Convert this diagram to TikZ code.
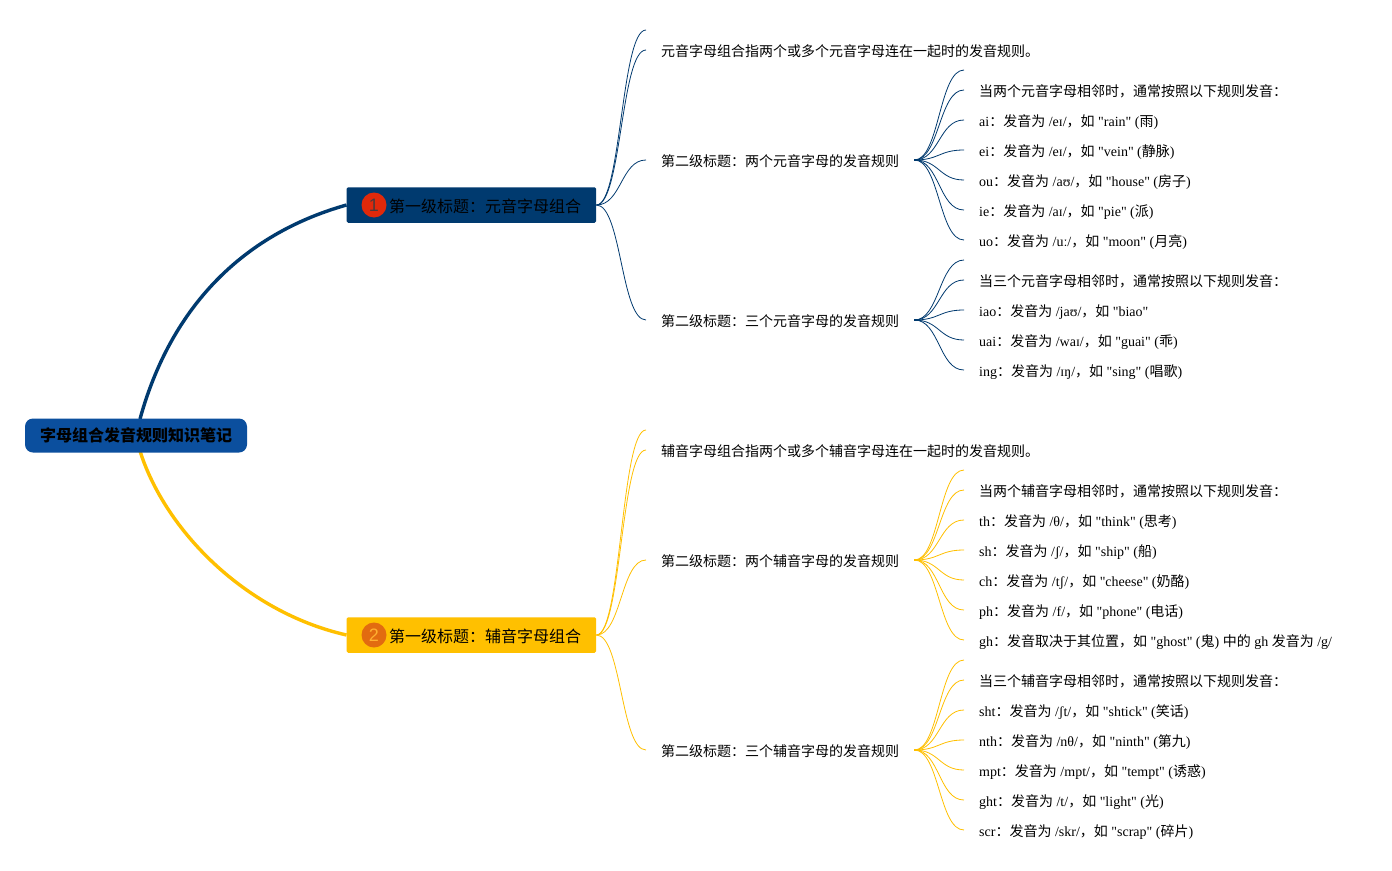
\documentclass[tikz,border=0pt]{standalone}
\usepackage{fontspec}
\newfontfamily\latinfont{Liberation Serif}
\newfontfamily\cjk{Noto Sans CJK SC}
\newfontfamily\badgefont{Liberation Sans}
\newcommand{\zh}[1]{\raisebox{-0.6pt}{\cjk #1}}
\definecolor{rootblue}{HTML}{0B4F9E}
\definecolor{navy}{HTML}{003A6F}
\definecolor{gold}{HTML}{FFC000}
\definecolor{redbadge}{HTML}{E0290A}
\definecolor{orangebadge}{HTML}{E26B10}
\definecolor{digitdark}{HTML}{4A3A3A}
\definecolor{digitlight}{HTML}{FFB030}
\tikzset{
  rootbox/.style={fill=rootblue,rounded corners=8pt,minimum width=222pt,minimum height=34pt,inner sep=0pt,font=\fontsize{16}{16}\cjk\bfseries},
  topicbox/.style={rounded corners=1.5pt,minimum width=249.5pt,minimum height=35.5pt,inner sep=0pt,anchor=west},
  topictext/.style={inner sep=0pt,anchor=west,font=\fontsize{16}{16}\cjk},
  badge/.style={circle,minimum size=25pt,inner sep=0pt,font=\fontsize{18}{18}\badgefont},
  leaf/.style={anchor=west,inner xsep=15pt,inner ysep=0pt,text height=15pt,text depth=3pt,font=\fontsize{14}{14}\latinfont},
  trunk/.style={line width=3.4pt},
  twig/.style={line width=0.8pt},
  stub/.style={line width=1.8pt},
  twigcurve/.style={to path={.. controls +(25,0) and +(-25,0) .. (\tikztotarget)}}
}
\begin{document}
\begin{tikzpicture}[x=1pt,y=-1pt]
\useasboundingbox (0,0) rectangle (1392,870);
\fill[white] (0,0) rectangle (1392,870);

% ---------- first-level boxes and root ----------
\node[topicbox,fill=navy] (vowel) at (346.5,205) {};
\node[topicbox,fill=gold] (cons) at (346.5,635) {};
\coordinate (rootUp) at (140,419);
\coordinate (rootDown) at (140,451);
\draw[trunk,navy] (rootUp) .. controls (170,310) and (240,235) .. (vowel.west);
\draw[trunk,gold] (rootDown) .. controls (165,530) and (245,612) .. (cons.west);
\node[rootbox] (root) at (136,435.5) {字母组合发音规则知识笔记};
\node[badge,fill=redbadge,text=digitdark] (b1) at (374,205) {1};
\node[badge,fill=orangebadge,text=digitlight] (b2) at (374,635) {2};
\node[topictext] (vt) at (389,206) {第一级标题：元音字母组合};
\node[topictext] (ct) at (389,636) {第一级标题：辅音字母组合};

% ---------- vowel branch ----------
\coordinate (v0) at (646,30);
\node[leaf] (v1) at (646,50) {\zh{元音字母组合指两个或多个元音字母连在一起时的发音规则。}};
\node[leaf] (v2) at (646,160) {\zh{第二级标题：两个元音字母的发音规则}};
\node[leaf] (v3) at (646,320) {\zh{第二级标题：三个元音字母的发音规则}};

\coordinate (a0) at (964,70);
\node[leaf] (a1) at (964,90) {\zh{当两个元音字母相邻时，通常按照以下规则发音：}};
\node[leaf] (a2) at (964,120) {ai\zh{：发音为} /eɪ/\zh{，如} "rain" (\zh{雨})};
\node[leaf] (a3) at (964,150) {ei\zh{：发音为} /eɪ/\zh{，如} "vein" (\zh{静脉})};
\node[leaf] (a4) at (964,180) {ou\zh{：发音为} /aʊ/\zh{，如} "house" (\zh{房子})};
\node[leaf] (a5) at (964,210) {ie\zh{：发音为} /aɪ/\zh{，如} "pie" (\zh{派})};
\node[leaf] (a6) at (964,240) {uo\zh{：发音为} /uː/\zh{，如} "moon" (\zh{月亮})};

\coordinate (b0) at (964,260);
\node[leaf] (b1t) at (964,280) {\zh{当三个元音字母相邻时，通常按照以下规则发音：}};
\node[leaf] (b2t) at (964,310) {iao\zh{：发音为} /jaʊ/\zh{，如} "biao"};
\node[leaf] (b3t) at (964,340) {uai\zh{：发音为} /waɪ/\zh{，如} "guai" (\zh{乖})};
\node[leaf] (b4t) at (964,370) {ing\zh{：发音为} /ɪŋ/\zh{，如} "sing" (\zh{唱歌})};

\begin{scope}[twig,navy]
  \foreach \t in {v0,v1.west,v2.west,v3.west} \draw (vowel.east) to[twigcurve] (\t);
  \foreach \t in {a0,a1.west,a2.west,a3.west,a4.west,a5.west,a6.west} \draw (v2.east) to[twigcurve] (\t);
  \foreach \t in {b0,b1t.west,b2t.west,b3t.west,b4t.west} \draw (v3.east) to[twigcurve] (\t);
  \draw[stub] (v2.east) -- ++(6,0);
  \draw[stub] (v3.east) -- ++(6,0);
\end{scope}

% ---------- consonant branch ----------
\coordinate (c0) at (646,430);
\node[leaf] (c1) at (646,450) {\zh{辅音字母组合指两个或多个辅音字母连在一起时的发音规则。}};
\node[leaf] (c2) at (646,560) {\zh{第二级标题：两个辅音字母的发音规则}};
\node[leaf] (c3) at (646,750) {\zh{第二级标题：三个辅音字母的发音规则}};

\coordinate (d0) at (964,470);
\node[leaf] (d1) at (964,490) {\zh{当两个辅音字母相邻时，通常按照以下规则发音：}};
\node[leaf] (d2) at (964,520) {th\zh{：发音为} /θ/\zh{，如} "think" (\zh{思考})};
\node[leaf] (d3) at (964,550) {sh\zh{：发音为} /ʃ/\zh{，如} "ship" (\zh{船})};
\node[leaf] (d4) at (964,580) {ch\zh{：发音为} /tʃ/\zh{，如} "cheese" (\zh{奶酪})};
\node[leaf] (d5) at (964,610) {ph\zh{：发音为} /f/\zh{，如} "phone" (\zh{电话})};
\node[leaf] (d6) at (964,640) {gh\zh{：发音取决于其位置，如} "ghost" (\zh{鬼}) \zh{中的} gh \zh{发音为} /g/};

\coordinate (e0) at (964,660);
\node[leaf] (e1) at (964,680) {\zh{当三个辅音字母相邻时，通常按照以下规则发音：}};
\node[leaf] (e2) at (964,710) {sht\zh{：发音为} /ʃt/\zh{，如} "shtick" (\zh{笑话})};
\node[leaf] (e3) at (964,740) {nth\zh{：发音为} /nθ/\zh{，如} "ninth" (\zh{第九})};
\node[leaf] (e4) at (964,770) {mpt\zh{：发音为} /mpt/\zh{，如} "tempt" (\zh{诱惑})};
\node[leaf] (e5) at (964,800) {ght\zh{：发音为} /t/\zh{，如} "light" (\zh{光})};
\node[leaf] (e6) at (964,830) {scr\zh{：发音为} /skr/\zh{，如} "scrap" (\zh{碎片})};

\begin{scope}[twig,gold]
  \foreach \t in {c0,c1.west,c2.west,c3.west} \draw (cons.east) to[twigcurve] (\t);
  \foreach \t in {d0,d1.west,d2.west,d3.west,d4.west,d5.west,d6.west} \draw (c2.east) to[twigcurve] (\t);
  \foreach \t in {e0,e1.west,e2.west,e3.west,e4.west,e5.west,e6.west} \draw (c3.east) to[twigcurve] (\t);
  \draw[stub] (c2.east) -- ++(6,0);
  \draw[stub] (c3.east) -- ++(6,0);
\end{scope}
\end{tikzpicture}
\end{document}
